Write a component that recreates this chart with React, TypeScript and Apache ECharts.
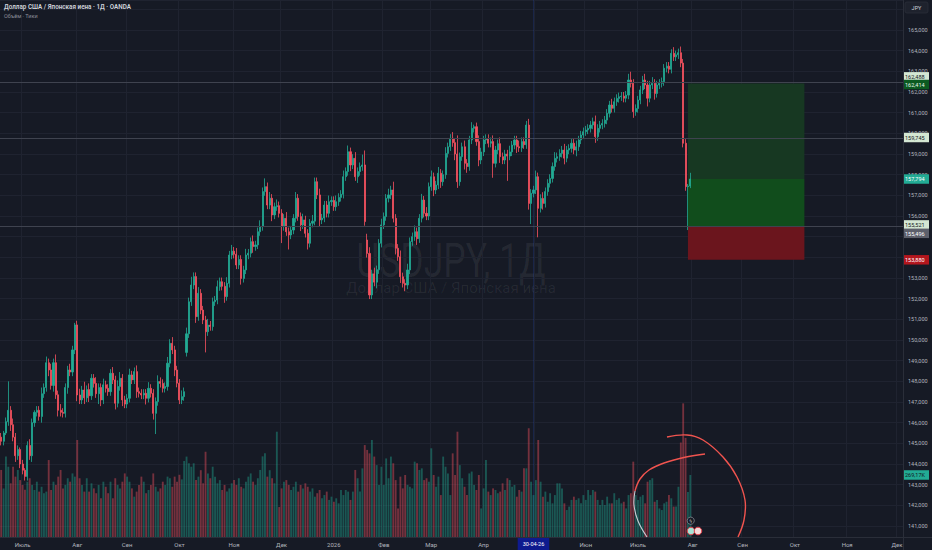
import React, { useEffect, useRef } from 'react';
import * as echarts from 'echarts';

const BG = '#161a25';
const UP = '#22ab94';
const DOWN = '#f7525f';
const GRID = '#1f2330';
const AXIS_TEXT = '#b2b5be';

// ---- data ----
const firstOpen = 145.3;
const closes = [
  145.1, 145.5, 146.05, 146.6, 145.9, 145.3, 144.4, 144.7, 144.0, 143.7,
  143.4, 144.9, 144.4, 146.0, 146.5, 146.6, 146.3, 147.4, 147.7, 148.9,
  148.55, 147.8, 148.9, 147.35, 146.6, 146.5, 146.45, 147.7, 148.55, 148.45,
  149.52, 150.73, 147.34, 147.1, 147.58, 147.2, 147.6, 147.3, 148.15, 147.9,
  147.4, 147.7, 147.1, 147.83, 147.66, 147.5, 148.39, 148.07, 146.94, 147.75,
  148.15, 147.1, 146.9, 147.18, 148.31, 148.07, 148.47, 147.5, 147.42, 147.34,
  147.42, 147.18, 147.66, 147.42, 146.45, 147.02, 147.99, 147.9, 147.66, 147.75,
  148.88, 149.84, 149.52, 148.55, 147.91, 147.1, 147.26, 147.5, 150.3, 151.85,
  152.66, 153.07, 151.13, 152.26, 151.45, 150.97, 150.4, 150.72, 150.65, 151.85,
  151.93, 152.58, 152.82, 152.6, 152.1, 152.74, 154.11, 154.3, 154.15, 153.63,
  153.9, 152.98, 153.39, 154.11, 154.2, 154.76, 154.52, 154.6, 155.24, 155.49,
  157.18, 157.42, 156.53, 156.86, 156.05, 156.45, 156.5, 156.13, 155.49, 155.89,
  155.24, 155.08, 155.32, 155.89, 156.86, 155.97, 155.57, 155.81, 155.16, 154.68,
  155.65, 155.75, 157.66, 157.02, 155.81, 155.9, 156.53, 156.13, 156.69, 156.75,
  156.45, 156.69, 156.9, 157.05, 157.9, 158.15, 159.11, 158.47, 158.79, 157.9,
  158.15, 158.39, 158.47, 155.73, 154.19, 152.18, 153.2, 152.8, 153.4, 154.68,
  155.57, 155.97, 156.86, 157.02, 157.26, 155.89, 154.44, 154.03, 153.06, 152.74,
  152.66, 153.39, 154.76, 155.0, 155.24, 154.9, 155.89, 156.77, 156.13, 156.0,
  157.42, 157.9, 157.26, 157.5, 158.07, 157.66, 158.0, 159.03, 159.35, 159.76,
  159.55, 159.0, 157.66, 158.87, 159.35, 158.55, 158.39, 159.68, 160.24, 160.32,
  159.6, 158.71, 159.1, 159.68, 159.75, 159.52, 159.6, 158.55, 159.19, 159.5,
  158.87, 158.71, 159.0, 158.9, 159.1, 159.43, 159.68, 159.35, 159.3, 159.6,
  159.45, 160.4, 156.61, 157.1, 157.26, 157.9, 156.37, 156.85, 156.61, 157.18,
  157.58, 157.82, 158.39, 158.79, 158.87, 159.03, 159.19, 158.8, 159.19, 159.27,
  159.52, 159.19, 159.35, 159.68, 159.92, 160.08, 160.16, 160.24, 160.4, 160.56,
  159.84, 160.24, 160.4, 160.48, 160.64, 160.97, 161.37, 161.21, 161.53, 161.69,
  161.77, 161.8, 161.7, 161.85, 162.58, 162.42, 161.05, 161.2, 161.61, 162.1,
  162.58, 162.34, 161.7, 162.34, 162.42, 161.93, 162.34, 162.42, 162.5, 163.15,
  163.25, 163.1, 163.87, 163.7, 163.8, 163.9, 163.4, 159.52, 157.42, 157.45,
  157.79,
];
// weekend gaps: [bar index, open]
const gapOpens: [number, number][] = [[78, 149.4], [154, 154.84]];
// wick lengths beyond the body, in tenths of a yen
const upperWicks = [
  2, 1, 2, 14, 2, 3, 2, 2, 1, 2,
  1, 2, 3, 2, 1, 2, 2, 3, 2, 3,
  2, 3, 2, 4, 2, 3, 2, 2, 2, 3,
  2, 1, 2, 3, 2, 4, 2, 3, 2, 2,
  3, 2, 2, 3, 2, 2, 2, 3, 2, 3,
  3, 2, 2, 2, 3, 2, 2, 3, 2, 2,
  2, 2, 3, 2, 2, 2, 3, 2, 2, 2,
  3, 2, 3, 2, 2, 2, 3, 2, 3, 2,
  4, 2, 2, 3, 2, 2, 2, 3, 2, 2,
  2, 3, 2, 2, 2, 3, 2, 3, 2, 3,
  2, 2, 2, 3, 2, 2, 3, 2, 2, 3,
  2, 4, 2, 3, 2, 2, 3, 2, 2, 2,
  3, 2, 2, 2, 3, 2, 2, 3, 2, 2,
  2, 3, 2, 2, 3, 2, 2, 2, 3, 2,
  2, 3, 2, 2, 3, 2, 3, 2, 2, 3,
  2, 2, 5, 7, 3, 3, 2, 3, 2, 2,
  3, 2, 2, 3, 2, 4, 2, 2, 3, 2,
  2, 3, 2, 2, 3, 2, 2, 3, 2, 3,
  2, 3, 2, 2, 3, 2, 2, 3, 2, 2,
  3, 2, 9, 2, 2, 3, 2, 2, 3, 1,
  2, 3, 2, 2, 2, 2, 2, 3, 2, 2,
  3, 2, 2, 2, 3, 2, 2, 2, 3, 2,
  2, 2, 3, 2, 2, 3, 2, 2, 3, 2,
  2, 2, 2, 3, 2, 2, 2, 3, 2, 2,
  2, 2, 3, 2, 2, 2, 2, 2, 2, 2,
  3, 2, 2, 2, 2, 2, 2, 3, 2, 2,
  2, 2, 2, 2, 3, 4, 2, 2, 2, 2,
  2, 3, 2, 2, 3, 2, 2, 2, 2, 2,
  2, 2, 2, 3, 2, 2, 3, 2, 2, 1,
  3,
];
const lowerWicks = [
  2, 2, 1, 2, 3, 2, 3, 2, 2, 2,
  2, 2, 2, 3, 2, 2, 2, 3, 2, 2,
  3, 2, 3, 2, 3, 2, 2, 2, 3, 2,
  2, 2, 3, 2, 2, 3, 2, 3, 2, 2,
  2, 5, 3, 2, 2, 2, 2, 2, 3, 2,
  2, 3, 2, 2, 2, 2, 2, 3, 2, 2,
  2, 3, 2, 2, 3, 10, 2, 2, 2, 2,
  2, 2, 2, 3, 2, 2, 2, 2, 2, 2,
  2, 2, 3, 2, 2, 2, 10, 2, 2, 2,
  2, 2, 2, 2, 3, 2, 2, 2, 2, 2,
  2, 3, 2, 2, 2, 2, 3, 2, 2, 2,
  2, 2, 2, 2, 3, 2, 2, 2, 8, 2,
  2, 7, 2, 2, 2, 2, 3, 2, 2, 3,
  2, 2, 2, 2, 3, 2, 2, 2, 2, 2,
  2, 2, 2, 2, 2, 2, 2, 3, 2, 2,
  3, 2, 2, 2, 2, 2, 2, 2, 3, 2,
  2, 2, 2, 2, 2, 2, 3, 2, 3, 2,
  3, 2, 2, 2, 2, 3, 2, 2, 2, 2,
  2, 2, 3, 2, 2, 3, 2, 2, 2, 2,
  2, 3, 3, 2, 2, 3, 3, 2, 2, 2,
  2, 3, 2, 2, 2, 2, 2, 7, 2, 2,
  3, 2, 2, 12, 2, 2, 2, 3, 2, 2,
  2, 2, 3, 10, 2, 2, 14, 2, 3, 2,
  2, 2, 2, 2, 2, 2, 2, 3, 2, 2,
  2, 2, 3, 2, 2, 2, 2, 2, 2, 2,
  3, 2, 2, 2, 2, 2, 2, 2, 2, 2,
  2, 2, 2, 2, 2, 2, 3, 2, 2, 2,
  2, 2, 4, 2, 2, 3, 2, 2, 2, 2,
  2, 2, 2, 2, 2, 2, 2, 2, 2, 21,
  1,
];
// tick volume, thousands
const volumesK = [
  291, 211, 349, 305, 233, 305, 262, 291, 247, 226,
  205, 240, 255, 226, 204, 240, 197, 218, 190, 197,
  334, 204, 240, 226, 262, 291, 211, 226, 255, 240,
  276, 262, 421, 255, 226, 197, 255, 197, 233, 211,
  190, 226, 168, 240, 218, 190, 240, 168, 255, 226,
  211, 240, 276, 262, 240, 211, 175, 197, 226, 262,
  240, 190, 204, 226, 276, 218, 197, 211, 240, 226,
  262, 255, 218, 262, 240, 270, 250, 330, 349, 320,
  305, 320, 247, 262, 290, 233, 370, 276, 255, 305,
  262, 233, 247, 204, 226, 197, 211, 233, 247, 226,
  255, 218, 211, 240, 262, 276, 240, 226, 255, 291,
  350, 363, 262, 290, 255, 233, 457, 130, 211, 240,
  247, 226, 204, 218, 240, 197, 226, 211, 233, 218,
  197, 211, 175, 190, 204, 168, 182, 197, 161, 175,
  153, 168, 146, 204, 182, 204, 197, 161, 197, 291,
  255, 197, 298, 399, 378, 363, 421, 349, 312, 226,
  305, 226, 341, 255, 349, 320, 247, 124, 262, 211,
  269, 226, 218, 211, 327, 320, 291, 298, 247, 255,
  240, 385, 269, 218, 262, 182, 349, 305, 276, 182,
  363, 269, 457, 312, 255, 218, 182, 276, 284, 226,
  204, 269, 124, 211, 334, 197, 182, 211, 204, 190,
  197, 233, 204, 255, 247, 218, 226, 175, 204, 197,
  298, 298, 472, 240, 182, 247, 421, 240, 175, 197,
  153, 190, 146, 182, 233, 233, 211, 146, 117, 132,
  161, 175, 161, 168, 146, 182, 161, 204, 182, 204,
  197, 161, 139, 161, 139, 175, 146, 146, 190, 161,
  168, 146, 153, 124, 182, 190, 327, 182, 161, 175,
  182, 146, 240, 247, 255, 153, 161, 124, 117, 146,
  153, 182, 168, 132, 132, 218, 410, 580, 430, 195,
  269.17,
];

const horizontalLevels = [162.488, 159.745, 155.521];
const targetPrice = 162.414;
const lastPrice = 157.794;
const entryPrice = 155.496;
const stopPrice = 153.88;
const lastVolumeK = 269.17;
const tickMin = 141;
const tickMax = 165;
const ticksCoveredByPriceLabels = [154, 155];
const monthNames = ['Янв', 'Фев', 'Мар', 'Апр', 'Май', 'Июн', 'Июль', 'Авг', 'Сен', 'Окт', 'Ноя', 'Дек'];
const crosshairDate = '2026-04-30';
const positionFromBar = 289;
const positionToBar = 338;

const SLOTS = 380;
const closedDays = ['2025-12-25', '2026-01-01'];

function buildDates(): string[] {
  const out: string[] = [];
  const d = new Date(Date.UTC(2025, 5, 18));
  while (out.length < SLOTS) {
    const wd = d.getUTCDay();
    const s = d.toISOString().slice(0, 10);
    if (wd !== 0 && wd !== 6 && closedDays.indexOf(s) < 0) out.push(s);
    d.setUTCDate(d.getUTCDate() + 1);
  }
  return out;
}

const fmtPrice = (v: number) => v.toFixed(3).replace('.', ',');

function priceLabel(text: string, bg: string, fg: string, shift: number) {
  const rich: any = {
    p: {
      backgroundColor: bg, color: fg, fontSize: 5.5, fontFamily: 'Roboto',
      padding: [2, 2, 1.5, 2], width: 22, lineHeight: 8,
    },
    s: { height: Math.abs(shift) * 2, width: 1, lineHeight: Math.abs(shift) * 2 },
  };
  const formatter = shift === 0 ? `{p|${text}}` : shift < 0 ? `{p|${text}}\n{s|}` : `{s|}\n{p|${text}}`;
  return { show: true, position: 'end', distance: 0, formatter, rich };
}

const hidden = { color: 'transparent', width: 0 };

export default function App() {
  const ref = useRef<HTMLDivElement>(null);
  useEffect(() => {
    document.body.style.margin = '0';
    document.body.style.background = BG;
    if (!ref.current) return;
    const chart = echarts.init(ref.current, undefined, { renderer: 'svg' });
    const dates = buildDates();
    const crossIdx = dates.indexOf(crosshairDate);
    const isMonthStart = (i: number) => i > 0 && dates[i].slice(0, 7) !== dates[i - 1].slice(0, 7);
    const showMonthLabel = (i: number) => isMonthStart(i) && Math.abs(i - crossIdx) > 6;
    const monthLabel = (s: string) => {
      const m = +s.slice(5, 7);
      return m === 1 ? s.slice(0, 4) : monthNames[m - 1];
    };

    const candles = closes.map((c, i) => {
      const gap = gapOpens.find((g) => g[0] === i);
      const o = gap ? gap[1] : i === 0 ? firstOpen : closes[i - 1];
      const hi = Math.max(o, c) + upperWicks[i] / 10;
      const lo = Math.min(o, c) - lowerWicks[i] / 10;
      return [o, c, +lo.toFixed(3), +hi.toFixed(3)];
    });
    const volumes = volumesK.map((v, i) => ({
      value: v,
      itemStyle: { color: candles[i][1] >= candles[i][0] ? 'rgba(34,171,148,0.42)' : 'rgba(247,82,95,0.42)' },
    }));
    const dd = crosshairDate.split('-');
    const crossText = `${dd[2]}-${dd[1]}-${dd[0].slice(2)}`;

    const option: any = {
      animation: false,
      backgroundColor: BG,
      textStyle: { fontFamily: 'Roboto' },
      grid: [
        { left: 0, right: 29, top: 0, bottom: 13 },
        { left: 0, right: 29, top: 387, bottom: 13 },
      ],
      xAxis: [
        {
          type: 'category', gridIndex: 0, data: dates, boundaryGap: true,
          axisLabel: { show: false }, axisTick: { show: false }, axisLine: { show: false },
          splitLine: { show: true, interval: (i: number) => isMonthStart(i), lineStyle: { color: GRID, width: 1 } },
        },
        {
          type: 'category', gridIndex: 1, data: dates, boundaryGap: true,
          axisLine: { show: false }, axisTick: { show: false }, splitLine: { show: false },
          axisLabel: {
            show: true, interval: (i: number) => showMonthLabel(i), formatter: (v: string) => monthLabel(v),
            color: AXIS_TEXT, fontSize: 6, fontFamily: 'Roboto', margin: 4,
          },
        },
      ],
      yAxis: [
        {
          type: 'value', gridIndex: 0, position: 'right', min: 140.4677, max: 166.4516,
          splitNumber: 26, minInterval: 1, maxInterval: 1,
          axisLine: { show: false }, axisTick: { show: false },
          splitLine: { show: true, lineStyle: { color: GRID, width: 1 } },
          axisLabel: {
            show: true, showMinLabel: false, showMaxLabel: false, margin: 5,
            color: AXIS_TEXT, fontSize: 5.5, fontFamily: 'Roboto',
            formatter: (v: number) => {
              const r = Math.round(v);
              if (Math.abs(v - r) > 1e-6 || r < tickMin || r > tickMax) return '';
              if (ticksCoveredByPriceLabels.indexOf(r) >= 0) return '';
              return fmtPrice(r);
            },
          },
        },
        { type: 'value', gridIndex: 1, min: 0, max: 651, show: false, splitLine: { show: false } },
      ],
      series: [
        {
          type: 'bar', name: 'volume', xAxisIndex: 1, yAxisIndex: 1, data: volumes, barWidth: '78%', z: 1,
          markLine: {
            symbol: ['none', 'none'], silent: true,
            data: [{ yAxis: lastVolumeK, lineStyle: hidden, label: priceLabel(lastVolumeK.toFixed(2).replace('.', ',') + 'K', UP, '#131722', 0) }],
          },
        },
        {
          type: 'candlestick', name: 'USDJPY', xAxisIndex: 0, yAxisIndex: 0, data: candles, z: 3,
          barWidth: 1.6,
          itemStyle: { color: UP, color0: DOWN, borderColor: UP, borderColor0: DOWN, borderWidth: 0.8 },
          markArea: {
            silent: true,
            data: [
              [{ xAxis: dates[positionFromBar], yAxis: targetPrice, itemStyle: { color: '#173822' } }, { xAxis: dates[positionToBar], yAxis: lastPrice }],
              [{ xAxis: dates[positionFromBar], yAxis: lastPrice, itemStyle: { color: '#114d1c' } }, { xAxis: dates[positionToBar], yAxis: entryPrice }],
              [{ xAxis: dates[positionFromBar], yAxis: entryPrice, itemStyle: { color: '#6b151d' } }, { xAxis: dates[positionToBar], yAxis: stopPrice }],
            ],
          },
          markLine: {
            symbol: ['none', 'none'], silent: true,
            data: [
              { yAxis: horizontalLevels[0], lineStyle: { color: '#3f434f', width: 1, type: 'solid' }, label: priceLabel(fmtPrice(horizontalLevels[0]), '#d4e7d3', '#131722', -5) },
              { yAxis: horizontalLevels[1], lineStyle: { color: '#3f434f', width: 1, type: 'solid' }, label: priceLabel(fmtPrice(horizontalLevels[1]), '#d4e7d3', '#131722', -1) },
              { yAxis: horizontalLevels[2], lineStyle: { color: '#3f434f', width: 1, type: 'solid' }, label: priceLabel(fmtPrice(horizontalLevels[2]), '#d4e7d3', '#131722', -1) },
              { yAxis: targetPrice, lineStyle: hidden, label: priceLabel(fmtPrice(targetPrice), '#0c5a21', '#e8f5e9', 1) },
              { yAxis: lastPrice, lineStyle: hidden, label: priceLabel(fmtPrice(lastPrice), UP, '#ffffff', 0) },
              { yAxis: entryPrice, lineStyle: hidden, label: priceLabel(fmtPrice(entryPrice), '#5d606b', '#ffffff', 7) },
              { yAxis: stopPrice, lineStyle: hidden, label: priceLabel(fmtPrice(stopPrice), '#b3161d', '#ffffff', 0) },
              {
                xAxis: crosshairDate, lineStyle: { color: 'rgba(41,98,255,0.16)', width: 1, type: 'solid' },
                label: {
                  show: true, position: 'start', distance: 1, formatter: crossText,
                  backgroundColor: '#0e1a8e', color: '#ffffff', fontSize: 5.5, fontFamily: 'Roboto', padding: [3, 5],
                },
              },
            ],
          },
        },
      ],
      graphic: [
        { type: 'text', x: 451, y: 261, scaleX: 0.74, z: 0, silent: true,
          style: { text: 'USDJPY, 1Д', fill: 'rgba(255,255,255,0.065)', font: '48px Roboto', align: 'center', verticalAlign: 'middle', textAlign: 'center', textVerticalAlign: 'middle' } },
        { type: 'text', x: 451, y: 288, z: 0, silent: true,
          style: { text: 'Доллар США / Японская иена', fill: 'rgba(255,255,255,0.065)', font: '15px Roboto', align: 'center', verticalAlign: 'middle', textAlign: 'center', textVerticalAlign: 'middle' } },
        { type: 'text', x: 4, y: 7, z: 20, silent: true,
          style: { text: 'Доллар США / Японская иена · 1Д · OANDA', fill: '#d1d4dc', font: '600 6.3px Roboto', verticalAlign: 'middle', textVerticalAlign: 'middle' } },
        { type: 'text', x: 4, y: 15.5, z: 20, silent: true,
          style: { text: 'Объём · Тики', fill: '#8c8f99', font: '5.5px Roboto', verticalAlign: 'middle', textVerticalAlign: 'middle' } },
        { type: 'line', z: 20, silent: true, shape: { x1: 0, y1: 537.5, x2: 932, y2: 537.5 }, style: { stroke: '#2a2e39', lineWidth: 1 } },
        { type: 'line', z: 20, silent: true, shape: { x1: 903.5, y1: 0, x2: 903.5, y2: 550 }, style: { stroke: '#2a2e39', lineWidth: 1 } },
        { type: 'rect', z: 20, silent: true, shape: { x: 905, y: 2, width: 23, height: 11, r: 2 }, style: { fill: '#1e222d', stroke: '#2a2e39', lineWidth: 0.8 } },
        { type: 'text', x: 916.5, y: 7.5, z: 21, silent: true,
          style: { text: 'JPY', fill: '#d1d4dc', font: '5.5px Roboto', align: 'center', verticalAlign: 'middle', textAlign: 'center', textVerticalAlign: 'middle' } },
        { type: 'polyline', z: 20, silent: true,
          shape: { points: [[705, 454], [686, 457], [664, 463], [649, 470], [640, 479], [635, 491]], smooth: 0.4 },
          style: { stroke: '#f0544f', lineWidth: 1.4, fill: null } },
        { type: 'polyline', z: 20, silent: true,
          shape: { points: [[635, 491], [634, 505], [638, 521], [647, 537]], smooth: 0.4 },
          style: { stroke: '#c9ccd4', lineWidth: 1.1, fill: null } },
        { type: 'polyline', z: 20, silent: true,
          shape: { points: [[667, 437], [687, 435], [703, 440], [723, 457], [737, 477], [745, 500], [744, 520], [738, 537]], smooth: 0.4 },
          style: { stroke: '#f0544f', lineWidth: 1.4, fill: null } },
        { type: 'circle', z: 20, silent: true, shape: { cx: 690.7, cy: 520.7, r: 3.6 }, style: { fill: BG, stroke: '#9598a1', lineWidth: 0.7 } },
        { type: 'text', x: 690.7, y: 520.9, z: 21, silent: true,
          style: { text: 'ϟ', fill: '#c9ccd4', font: '5px DejaVu Sans', align: 'center', verticalAlign: 'middle', textAlign: 'center', textVerticalAlign: 'middle' } },
        { type: 'circle', z: 20, silent: true, shape: { cx: 691, cy: 531, r: 3.8 }, style: { fill: '#a7e3d6', stroke: '#e0404a', lineWidth: 1 } },
        { type: 'circle', z: 20, silent: true, shape: { cx: 698, cy: 531, r: 3.8 }, style: { fill: '#f3dada', stroke: '#e0404a', lineWidth: 1 } },
      ],
    };
    chart.setOption(option);
    return () => chart.dispose();
  }, []);
  return <div ref={ref} style={{ width: 932, height: 550 }} />;
}
